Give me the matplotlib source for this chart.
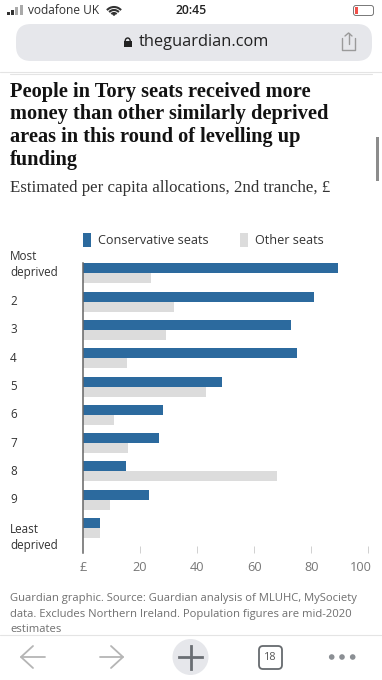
#!/usr/bin/env python3

import matplotlib

matplotlib.use("Agg")
import matplotlib.pyplot as plt
from matplotlib import ticker
from matplotlib.patches import Arc, Circle, FancyBboxPatch, Rectangle
from matplotlib.transforms import ScaledTranslation

WIDTH, HEIGHT = 382, 680

categories = ["Most\ndeprived", "2", "3", "4", "5", "6", "7", "8", "9", "Least\ndeprived"]
conservative = [89.5, 81, 73, 75, 48.6, 28.2, 26.6, 15.2, 23, 5.8]
other = [23.7, 31.8, 29, 15.3, 43, 10.9, 15.7, 68, 9.3, 6.1]
xticks = [0, 20, 40, 60, 80, 100]
xticklabels = ["£", "20", "40", "60", "80", "100"]

title_lines = [
    "People in Tory seats received more",
    "money than other similarly deprived",
    "areas in this round of levelling up",
    "funding",
]
subtitle = "Estimated per capita allocations, 2nd tranche, £"
footer_lines = [
    "Guardian graphic. Source: Guardian analysis of MLUHC, MySociety",
    "data. Excludes Northern Ireland. Population figures are mid-2020",
    "estimates",
]

BLUE = "#2c6a9e"
GREY = "#dcdcdc"
SANS = "Open Sans"
SERIF = "Liberation Serif"

plt.rcParams["font.family"] = [SANS, "DejaVu Sans"]

fig = plt.figure(figsize=(WIDTH / 100, HEIGHT / 100), dpi=100, facecolor="white")

# Page in pixel coordinates
bg = fig.add_axes([0, 0, 1, 1])
bg.set_xlim(0, WIDTH)
bg.set_ylim(HEIGHT, 0)
bg.axis("off")


def line(xs, ys, color, lw=1.0, zorder=2):
    bg.plot(xs, ys, color=color, lw=lw, solid_capstyle="round", zorder=zorder)


# Status bar
for x, h, c in [(7, 3, "#333333"), (11, 5, "#333333"), (15, 8, "#aaaaaa"), (20, 10, "#aaaaaa")]:
    bg.add_patch(Rectangle((x, 15 - h), 3, h, color=c, lw=0))
bg.text(28, 10.5, "vodafone UK", fontsize=8.6, color="#333333", va="center")
for d in [19, 13, 7]:
    bg.add_patch(Arc((114, 16.5), d, d, theta1=222, theta2=318, color="#333333", lw=1.5))
bg.add_patch(Circle((114, 14.5), 1.3, color="#333333", lw=0))
bg.text(191, 10.5, "20:45", fontsize=8.8, color="#222222", va="center", ha="center", weight="semibold")
bg.add_patch(FancyBboxPatch((353.5, 5.5), 20, 10, boxstyle="round,pad=0,rounding_size=2.5",
                            fc="white", ec="#777777", lw=0.7))
bg.add_patch(Rectangle((355, 7), 3, 7, color="#f0504a", lw=0))

# URL bar
bg.add_patch(FancyBboxPatch((16, 24), 356, 37, boxstyle="round,pad=0,rounding_size=15",
                            fc="#e6e7eb", ec="none"))
bg.add_patch(Rectangle((124, 41), 7.5, 6, color="#222222", lw=0))
bg.add_patch(Arc((127.7, 41), 5, 6, theta1=180, theta2=360, color="#222222", lw=1))
bg.text(138.5, 42, "theguardian.com", fontsize=11.8, color="#222222", va="center")
line([342, 342, 355, 355], [38, 49.5, 49.5, 38], "#9a9a9a", 1)
line([348.5, 348.5], [33, 44], "#9a9a9a", 1)
line([345, 348.5, 352], [36, 33, 36], "#9a9a9a", 1)

line([0, WIDTH], [71.5, 71.5], "#e4e4e4", 0.8)
line([10, 372], [73.5, 73.5], "#e4e4e4", 0.8)
bg.add_patch(Rectangle((376, 137), 3, 44, color="#8c8c8c", lw=0))

# Headline
for y, txt in zip([92, 114.5, 137, 159.5], title_lines):
    bg.text(10, y, txt, family=SERIF, weight="bold", fontsize=14.7, color="#121212", va="center")
bg.text(10, 187.5, subtitle, family=SERIF, fontsize=12.15, color="#333333", va="center")

# Chart: x from 83 to 368.3 px, y from 263 to 552.7 px
ax = fig.add_axes([83 / WIDTH, 1 - 552.7 / HEIGHT, 285.3 / WIDTH, 289.7 / HEIGHT])
ax.patch.set_alpha(0)
pos = list(range(len(categories)))
bar_h = 10 / 28.33
ax.barh([p - bar_h / 2 for p in pos], conservative, height=bar_h, color=BLUE, label="Conservative seats")
ax.barh([p + bar_h / 2 for p in pos], other, height=bar_h, color=GREY, label="Other seats")
ax.set_xlim(0, 100)
ax.set_ylim(9.87, -0.364)

for s in ["top", "right", "bottom"]:
    ax.spines[s].set_visible(False)
ax.spines["left"].set_color("#666666")
ax.spines["left"].set_linewidth(1.1)
ax.set_yticks([])
ax.xaxis.set_major_locator(ticker.FixedLocator(xticks))
ax.set_xticklabels(xticklabels)
ax.tick_params(axis="x", direction="in", length=5, width=0.7, color="#d0d0d0",
               labelsize=9.2, labelcolor="#777777", pad=6.2)
ax.get_xticklines()[0].set_visible(False)

# last tick label is pulled in so it stays inside the chart
last = ax.get_xticklabels()[-1]
last.set_ha("right")
last.set_transform(last.get_transform() + ScaledTranslation(3 / 100, 0, fig.dpi_scale_trans))

# Two line labels sit off centre, as in the original
for i, lab in enumerate(categories):
    dy = 9 if i == 0 else (-9 if i == len(categories) - 1 else 0)
    ax.annotate(lab, xy=(0, i), xycoords=ax.get_yaxis_transform(), xytext=(-73 * 0.72, dy * 0.72),
                textcoords="offset points", ha="left", va="center", fontsize=8.4,
                color="#333333", linespacing=1.3, annotation_clip=False)

ax.legend(loc="lower left", bbox_to_anchor=(0, 1.055), ncol=2, frameon=False, borderpad=0,
          borderaxespad=0, fontsize=9.05, handlelength=0.65, handleheight=1.33,
          handletextpad=0.55, columnspacing=2.45, labelcolor="#333333")

# Footer
for y, txt in zip([599, 614, 629], footer_lines):
    bg.text(10, y, txt, fontsize=8.1, color="#707070", va="center")

# Toolbar
bg.add_patch(Rectangle((0, 634.5), WIDTH, 46, color="white", lw=0, zorder=3))
line([0, WIDTH], [634.5, 634.5], "#e4e4e4", 0.8, zorder=4)
for xs, tip in [((21, 45), 21), ((100, 123), 123)]:
    line(xs, [657, 657], "#b5b5b5", 1.3, zorder=4)
    back = tip + (12 if tip == 21 else -12)
    line([back, tip, back], [646, 657, 668], "#b5b5b5", 1.3, zorder=4)
bg.add_patch(Circle((190.5, 657), 18, color="#e6e7eb", lw=0, zorder=4))
bg.plot([179, 202], [657, 657], color="#6a6e73", lw=2, zorder=5)
bg.plot([190.5, 190.5], [645.5, 668.5], color="#6a6e73", lw=2, zorder=5)
bg.add_patch(FancyBboxPatch((259, 646), 23, 23, boxstyle="round,pad=0,rounding_size=4",
                            fc="white", ec="#666a6e", lw=1.3, zorder=4))
bg.text(270.5, 657.5, "18", fontsize=7.8, color="#555555", ha="center", va="center", zorder=5)
for x in [331.7, 342, 352.7]:
    bg.add_patch(Circle((x, 657), 2.8, color="#8b8f94", lw=0, zorder=4))

fig.savefig("out.png", dpi=100)
plt.close()
